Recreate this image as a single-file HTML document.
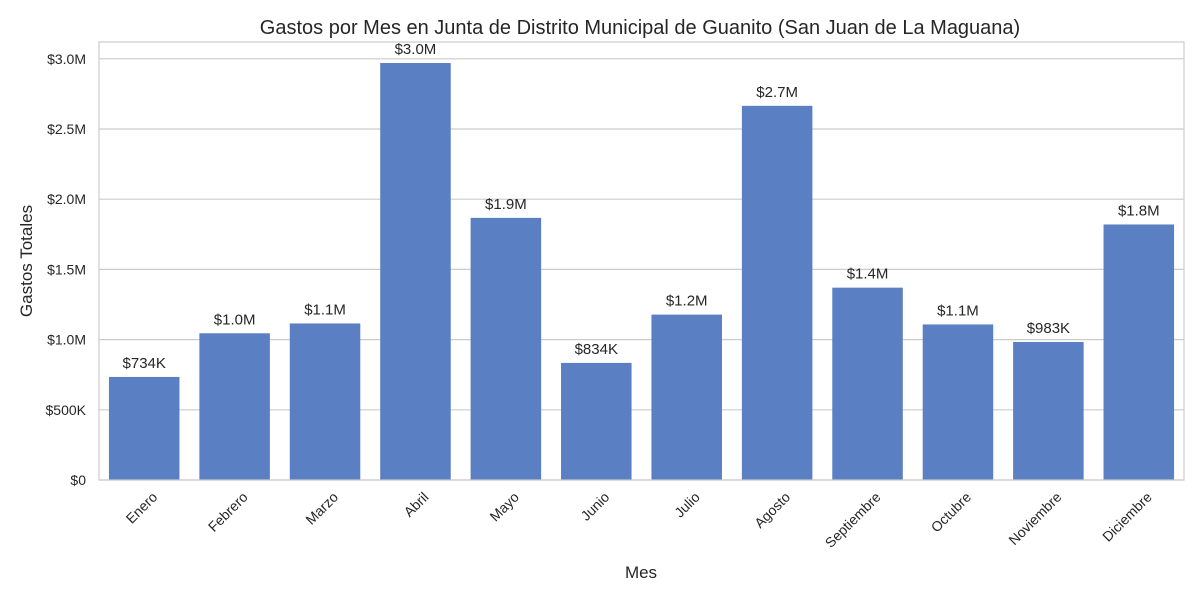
<!DOCTYPE html>
<html><head><meta charset="utf-8"><style>
body{margin:0;background:#fff;}
svg text{font-family:"Liberation Sans",Arial,sans-serif;fill:#262626;}
</style></head><body>
<svg id="chart" width="1200" height="600" viewBox="0 0 1200 600">
<text x="640" y="34" text-anchor="middle" font-size="20">Gastos por Mes en Junta de Distrito Municipal de Guanito (San Juan de La Maguana)</text>
<g id="grid"></g>
<g id="bars"></g>
<g id="xt"></g>
<rect x="99" y="42" width="1085" height="438" fill="none" stroke="#cccccc" stroke-width="1.2"/>
<text x="641" y="578" text-anchor="middle" font-size="17">Mes</text>
<text transform="translate(32,261) rotate(-90)" text-anchor="middle" font-size="17">Gastos Totales</text>
</svg>
<script>
const categories=["Enero","Febrero","Marzo","Abril","Mayo","Junio","Julio","Agosto","Septiembre","Octubre","Noviembre","Diciembre"];
const values=[734000,1045000,1115000,2970000,1867000,834000,1178000,2665000,1370000,1108000,983000,1820000];
const valueLabels=["$734K","$1.0M","$1.1M","$3.0M","$1.9M","$834K","$1.2M","$2.7M","$1.4M","$1.1M","$983K","$1.8M"];
const yTicks=[0,500000,1000000,1500000,2000000,2500000,3000000];
const yTickLabels=["$0","$500K","$1.0M","$1.5M","$2.0M","$2.5M","$3.0M"];
const NS="http://www.w3.org/2000/svg";
const L=99,R=1184,B=480;
function y(v){return B-v*140.4/1e6;}
const slot=(R-L)/categories.length;
function xc(i){return L+slot*(i+0.5);}
function mk(t,a,p){const e=document.createElementNS(NS,t);for(const k in a)e.setAttribute(k,a[k]);p.appendChild(e);return e;}
const g=document.getElementById('grid'),bg=document.getElementById('bars'),xt=document.getElementById('xt');
yTicks.forEach((v,i)=>{
 const ln=mk('line',{x1:L,x2:R,y1:y(v),y2:y(v),stroke:'#cccccc','stroke-width':1.2},g);
 
 
 const t=mk('text',{x:L-13,y:y(v)+5,'text-anchor':'end','font-size':14},g);
 t.textContent=yTickLabels[i];
 
 
});
const bw=slot*0.78;
categories.forEach((c,i)=>{
 const r=mk('rect',{x:xc(i)-bw/2,y:y(values[i]),width:bw,height:B-y(values[i]),fill:'#5a7fc2'},bg);
 
 
 const t=mk('text',{x:xc(i),y:y(values[i])-9,'text-anchor':'middle','font-size':15},bg);
 t.textContent=valueLabels[i];
 
 
 const l=mk('text',{transform:`translate(${xc(i)+14},${B+18}) rotate(-45)`,'text-anchor':'end','font-size':14},xt);
 l.textContent=c;
 
 
});
</script>
</body></html>
